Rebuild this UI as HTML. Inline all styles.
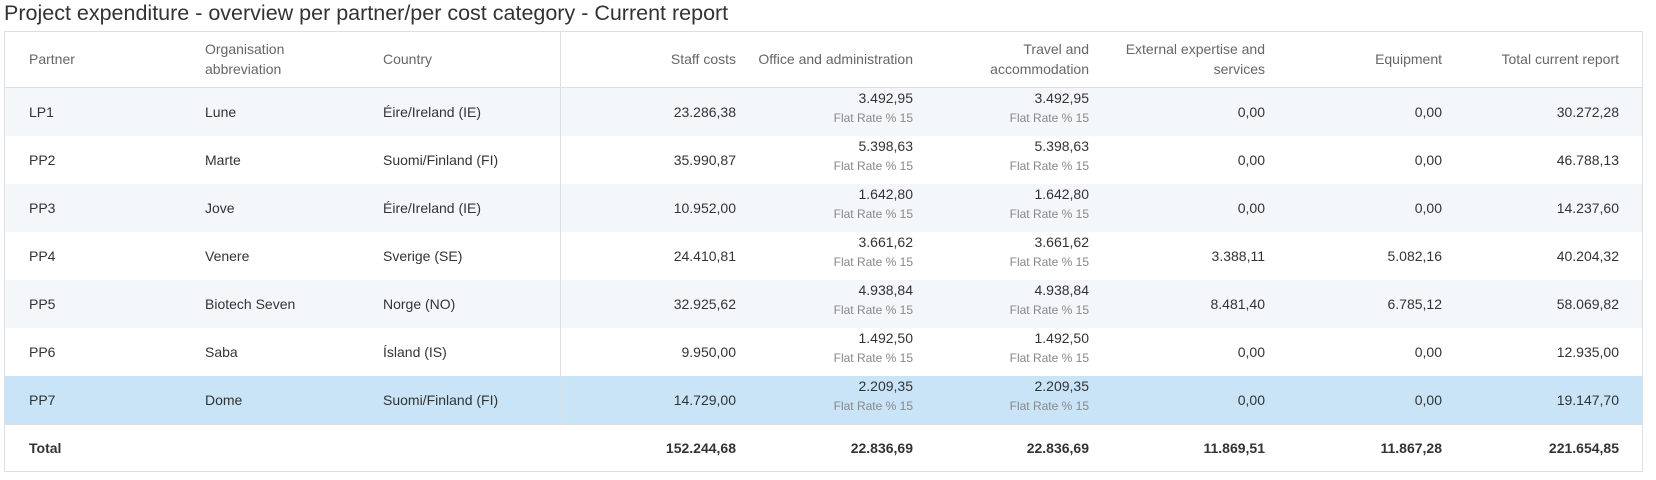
<!DOCTYPE html>
<html><head><meta charset="utf-8"><style>
*{margin:0;padding:0;box-sizing:border-box}
body{width:1656px;height:480px;background:#fff;font-family:"Liberation Sans",sans-serif;position:relative;overflow:hidden;color:#333}
.t{position:absolute;white-space:nowrap}
.title{left:4px;top:0px;font-size:21.5px;color:#333;line-height:26px}
.tbl{position:absolute;left:4px;top:31px;width:1639px;height:441px;border:1px solid #dcdfe3}
.row{position:absolute;left:5px;width:1637px;height:48px}
.c{position:absolute;font-size:14px;line-height:18px;white-space:nowrap}
.r{text-align:right}
.h{color:#666;font-size:14px;line-height:20px}
.fr{font-size:12px;color:#888}
</style></head><body>
<div class="t title">Project expenditure - overview per partner/per cost category - Current report</div>
<div class="tbl"></div>
<div style="position:absolute;left:5px;top:87px;width:1637px;height:1px;background:#dcdfe3"></div>
<div style="position:absolute;left:5px;top:424px;width:1637px;height:1px;background:#dcdfe3"></div>
<!-- header -->
<div class="c h" style="left:29px;top:49px">Partner</div>
<div class="c h" style="left:205px;top:39px">Organisation<br>abbreviation</div>
<div class="c h" style="left:383px;top:49px">Country</div>
<div class="c h r" style="right:920px;top:49px">Staff costs</div>
<div class="c h r" style="right:743px;top:49px">Office and administration</div>
<div class="c h r" style="right:567px;top:39px">Travel and<br>accommodation</div>
<div class="c h r" style="right:391px;top:39px">External expertise and<br>services</div>
<div class="c h r" style="right:214px;top:49px">Equipment</div>
<div class="c h r" style="right:37px;top:49px">Total current report</div>
<div id="rows"></div>
<div style="position:absolute;left:560px;top:32px;width:1px;height:392px;background:#dcdfe3;z-index:5"></div>
<script>
var d=[["LP1","Lune","Éire/Ireland (IE)","23.286,38","3.492,95","0,00","0,00","30.272,28"],
["PP2","Marte","Suomi/Finland (FI)","35.990,87","5.398,63","0,00","0,00","46.788,13"],
["PP3","Jove","Éire/Ireland (IE)","10.952,00","1.642,80","0,00","0,00","14.237,60"],
["PP4","Venere","Sverige (SE)","24.410,81","3.661,62","3.388,11","5.082,16","40.204,32"],
["PP5","Biotech Seven","Norge (NO)","32.925,62","4.938,84","8.481,40","6.785,12","58.069,82"],
["PP6","Saba","Ísland (IS)","9.950,00","1.492,50","0,00","0,00","12.935,00"],
["PP7","Dome","Suomi/Finland (FI)","14.729,00","2.209,35","0,00","0,00","19.147,70"]];
var h="";
d.forEach(function(r,i){var top=88+i*48;var bg=i==6?"#c9e4f6":(i%2==0?"#f3f7fa":"#fff");
h+='<div class="row" style="top:'+top+'px;background:'+bg+'"></div>';
var m=top+15;
h+='<div class="c" style="left:29px;top:'+m+'px">'+r[0]+'</div>';
h+='<div class="c" style="left:205px;top:'+m+'px">'+r[1]+'</div>';
h+='<div class="c" style="left:383px;top:'+m+'px">'+r[2]+'</div>';
h+='<div class="c r" style="right:920px;top:'+m+'px">'+r[3]+'</div>';
[743,567].forEach(function(rt){
h+='<div class="c r" style="right:'+rt+'px;top:'+(top+1)+'px">'+r[4]+'</div>';
h+='<div class="c r fr" style="right:'+rt+'px;top:'+(top+21)+'px">Flat Rate % 15</div>';});
h+='<div class="c r" style="right:391px;top:'+m+'px">'+r[5]+'</div>';
h+='<div class="c r" style="right:214px;top:'+m+'px">'+r[6]+'</div>';
h+='<div class="c r" style="right:37px;top:'+m+'px">'+r[7]+'</div>';});
var t=424+15;
h+='<div class="c" style="left:29px;top:'+t+'px;font-weight:bold">Total</div>';
[["152.244,68",920],["22.836,69",743],["22.836,69",567],["11.869,51",391],["11.867,28",214],["221.654,85",37]].forEach(function(x){
h+='<div class="c r" style="right:'+x[1]+'px;top:'+t+'px;font-weight:bold">'+x[0]+'</div>';});
document.getElementById("rows").innerHTML=h;
</script>
</body></html>
